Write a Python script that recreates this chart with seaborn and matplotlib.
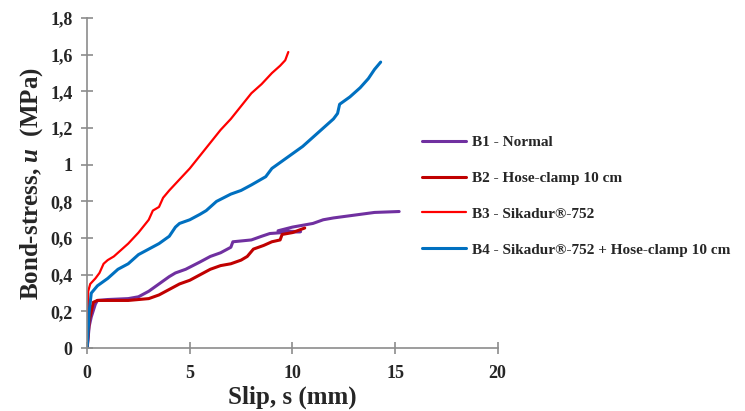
import pandas as pd
import numpy as np
import seaborn as sns
import matplotlib.pyplot as plt
from matplotlib.ticker import FuncFormatter, MultipleLocator

# ─────────────────────────────────────────────────────────────
# Daten
# ─────────────────────────────────────────────────────────────

b1_slip = [0, 0.1, 0.2, 0.4, 0.5, 1.0, 2.0, 2.5, 3.0, 3.5, 4.0, 4.3, 4.8, 5.5, 6.0,
           6.5, 7.0, 7.1, 8.0, 8.5, 8.9, 9.5, 10.4, 9.3, 10.0, 11.0, 11.5, 12.0,
           13.0, 14.0, 15.2]
b1_stress = [0, 0.12, 0.17, 0.24, 0.26, 0.265, 0.27, 0.28, 0.31, 0.35, 0.39, 0.41,
             0.43, 0.47, 0.50, 0.52, 0.55, 0.58, 0.59, 0.61, 0.625, 0.63, 0.635,
             0.64, 0.66, 0.68, 0.70, 0.71, 0.725, 0.74, 0.745]

b2_slip = [0, 0.1, 0.3, 0.5, 1.0, 2.0, 2.5, 3.0, 3.5, 4.0, 4.5, 5.0, 5.5, 6.0,
           6.5, 7.0, 7.5, 7.8, 8.1, 8.6, 9.0, 9.4, 9.5, 10.0, 10.6]
b2_stress = [0, 0.15, 0.25, 0.26, 0.26, 0.26, 0.265, 0.27, 0.29, 0.32, 0.35, 0.37,
             0.40, 0.43, 0.45, 0.46, 0.48, 0.50, 0.54, 0.56, 0.58, 0.59, 0.62,
             0.63, 0.655]

b3_slip = [0, 0.05, 0.15, 0.4, 0.6, 0.8, 1.0, 1.3, 1.6, 2.0, 2.5, 3.0, 3.2, 3.5,
           3.7, 4.0, 4.5, 5.0, 5.5, 6.0, 6.5, 7.0, 7.5, 8.0, 8.5, 9.0, 9.4, 9.65,
           9.8]
b3_stress = [0, 0.31, 0.35, 0.38, 0.41, 0.46, 0.48, 0.50, 0.53, 0.57, 0.63, 0.70,
             0.75, 0.77, 0.82, 0.86, 0.92, 0.98, 1.05, 1.12, 1.19, 1.25, 1.32,
             1.39, 1.44, 1.50, 1.54, 1.57, 1.615]

b4_slip = [0, 0.1, 0.2, 0.5, 1.0, 1.5, 2.0, 2.5, 3.0, 3.5, 4.0, 4.3, 4.5, 5.0,
           5.5, 5.8, 6.3, 7.0, 7.5, 8.0, 8.7, 9.0, 9.5, 10.0, 10.5, 11.0, 11.5,
           12.0, 12.2, 12.3, 12.8, 13.3, 13.7, 14.0, 14.3]
b4_stress = [0, 0.2, 0.30, 0.34, 0.38, 0.43, 0.46, 0.51, 0.54, 0.57, 0.61, 0.66,
             0.68, 0.70, 0.73, 0.75, 0.80, 0.84, 0.86, 0.89, 0.935, 0.98, 1.02,
             1.06, 1.10, 1.15, 1.20, 1.25, 1.28, 1.33, 1.37, 1.42, 1.47, 1.52,
             1.56]

labels = [
    "B1 - Normal",
    "B2 - Hose-clamp 10 cm",
    "B3 - Sikadur®-752",
    "B4 - Sikadur®-752 + Hose-clamp 10 cm",
]
colors = ["#7030A0", "#C00000", "#FF0000", "#0070C0"]
widths = [2.2, 2.2, 1.6, 2.2]

# ─────────────────────────────────────────────────────────────
# Long-Format
# ─────────────────────────────────────────────────────────────

frames = []
for lab, s, u in zip(labels,
                     [b1_slip, b2_slip, b3_slip, b4_slip],
                     [b1_stress, b2_stress, b3_stress, b4_stress]):
    d = pd.DataFrame({"slip": s, "stress": u})
    d["Serie"] = lab
    frames.append(d)
df = pd.concat(frames, ignore_index=True)

# ─────────────────────────────────────────────────────────────
# Plot
# ─────────────────────────────────────────────────────────────

sns.set_style("white")
plt.rcParams["font.family"] = ["Liberation Serif", "DejaVu Serif"]
plt.rcParams["font.weight"] = "bold"
plt.rcParams["mathtext.fontset"] = "custom"
plt.rcParams["mathtext.it"] = "Liberation Serif:italic:bold"
plt.rcParams["mathtext.rm"] = "Liberation Serif:bold"

fig = plt.figure(figsize=(7.45, 4.11), dpi=100)
ax = fig.add_axes([0.117, 0.153, 0.551, 0.803])

for lab, col, lw in zip(labels, colors, widths):
    sns.lineplot(
        data=df[df["Serie"] == lab],
        x="slip", y="stress",
        sort=False, estimator=None,
        color=col, linewidth=lw, label=lab, ax=ax,
    )

ax.set_xlim(0, 20)
ax.set_ylim(0, 1.8)
ax.xaxis.set_major_locator(MultipleLocator(5))
ax.yaxis.set_major_locator(MultipleLocator(0.2))
ax.yaxis.set_major_formatter(FuncFormatter(lambda v, p: f"{v:.1f}".rstrip("0").rstrip(".").replace(".", ",")))

for side in ["top", "right"]:
    ax.spines[side].set_visible(False)
for side in ["left", "bottom"]:
    ax.spines[side].set_color("#8C8C8C")
    ax.spines[side].set_linewidth(1.2)
ax.tick_params(bottom=True, left=True, direction="inout", length=9, width=1.2,
               color="#8C8C8C", labelsize=13)
ax.tick_params(axis="y", pad=6)
ax.tick_params(axis="x", pad=8)
for t in ax.get_xticklabels() + ax.get_yticklabels():
    t.set_fontweight("bold")

ax.set_xlabel("Slip, s (mm)", fontsize=18, fontweight="bold", labelpad=2)
ax.set_ylabel("Bond-stress, $u$  (MPa)", fontsize=18, fontweight="bold", labelpad=4)

ax.get_legend().remove()
handles, labs = ax.get_legend_handles_labels()
fig.legend(handles, labs, loc="upper left", bbox_to_anchor=(0.548, 0.704),
           frameon=False, handlelength=2.9, labelspacing=1.45,
           handletextpad=0.4, prop={"weight": "bold", "size": 11})

fig.savefig("out.png", dpi=100)
